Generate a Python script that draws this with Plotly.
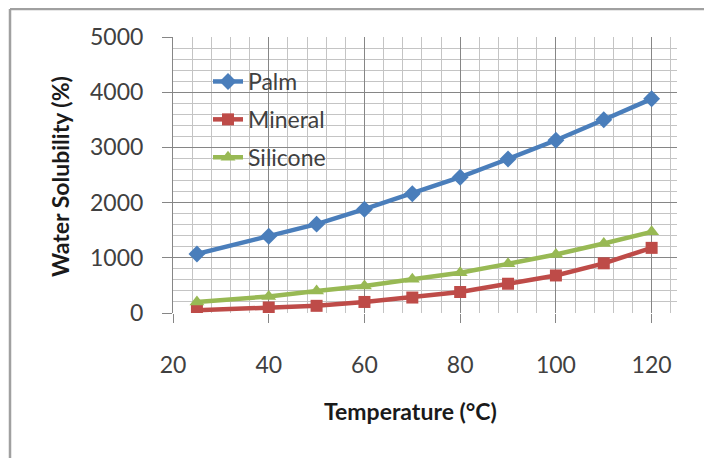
import plotly.graph_objects as go

temperature = [25, 40, 50, 60, 70, 80, 90, 100, 110, 120]
palm = [1070, 1390, 1610, 1880, 2160, 2460, 2790, 3130, 3500, 3880]
mineral = [50, 100, 130, 200, 280, 380, 530, 680, 900, 1180]
silicone = [200, 300, 400, 490, 610, 730, 890, 1060, 1260, 1470]

x_ticks = [20, 40, 60, 80, 100, 120]
y_ticks = [0, 1000, 2000, 3000, 4000, 5000]

FONT = "Lato, 'Open Sans', sans-serif"

fig = go.Figure()
series = [
    ("Palm", palm, "#4A7EBB", "diamond", 13),
    ("Mineral", mineral, "#BE4B48", "square", 12),
    ("Silicone", silicone, "#98B954", "triangle-up", 13),
]
for name, vals, color, sym, size in series:
    fig.add_trace(go.Scatter(
        x=temperature, y=vals, name=name, mode="lines+markers",
        legendgroup=name,
        line=dict(color=color, width=4.5),
        marker=dict(color=color, symbol=sym, size=size),
    ))

# page has an 8px body margin; work in page pixels and convert
OFF = 8
W, H = 712 - OFF, 458 - OFF
L, T = 173 - OFF, 37 - OFF
PR, PB = 677 - OFF, 313 - OFF  # plot right / bottom in figure px
R, B = W - PR, H - PB
pw, ph = PR - L, PB - T

def px(xpage):
    return (xpage - OFF - L) / pw

def py(ypage):
    return (PB - (ypage - OFF)) / ph

fig.update_layout(
    width=W, height=H,
    margin=dict(l=L, r=R, t=T, b=B),
    paper_bgcolor="white", plot_bgcolor="white",
    font=dict(family=FONT, size=23, color="#404040"),
    showlegend=True,
    legend=dict(x=px(208), y=py(60), xanchor="left", yanchor="top",
                bgcolor="rgba(0,0,0,0)", font=dict(size=23, color="#404040"),
                tracegroupgap=5, traceorder="grouped"),
    xaxis=dict(range=[20, 125.3], tickmode="array", tickvals=x_ticks,
               ticks="outside", ticklen=9, tickcolor="#868686",
               showgrid=True, gridcolor="#868686", gridwidth=1,
               minor=dict(dtick=4, tick0=20, showgrid=True, gridcolor="#C4C4C4", gridwidth=1),
               zeroline=False, showline=False, ticklabelstandoff=22,
               tickfont=dict(size=23, color="#404040")),
    yaxis=dict(range=[0, 5000], tickmode="array", tickvals=y_ticks,
               ticks="outside", ticklen=10, tickcolor="#868686",
               showgrid=True, gridcolor="#868686", gridwidth=1,
               minor=dict(dtick=200, showgrid=True, gridcolor="#C4C4C4", gridwidth=1),
               zeroline=False, showline=True, linecolor="#868686", linewidth=1,
               ticklabelstandoff=14,
               tickfont=dict(size=23, color="#404040")),
    annotations=[
        dict(text="<b>Temperature (°C)</b>", xref="paper", yref="paper",
             x=px(410), y=py(411), xanchor="center", yanchor="middle",
             showarrow=False, font=dict(size=23, color="#1a1a1a", family=FONT)),
        dict(text="<b>Water Solubility (%)</b>", xref="paper", yref="paper",
             x=px(60), y=py(177), xanchor="center", yanchor="middle", textangle=-90,
             showarrow=False, font=dict(size=23, color="#1a1a1a", family=FONT)),
    ],
    shapes=[
        dict(type="line", xref="paper", yref="paper", x0=px(10), x1=px(712),
             y0=py(9), y1=py(9), line=dict(color="#A0A0A0", width=2.5)),
        dict(type="line", xref="paper", yref="paper", x0=px(10), x1=px(10),
             y0=py(9), y1=py(458), line=dict(color="#A0A0A0", width=2.5)),
    ],
)

fig.write_html("out.html")
